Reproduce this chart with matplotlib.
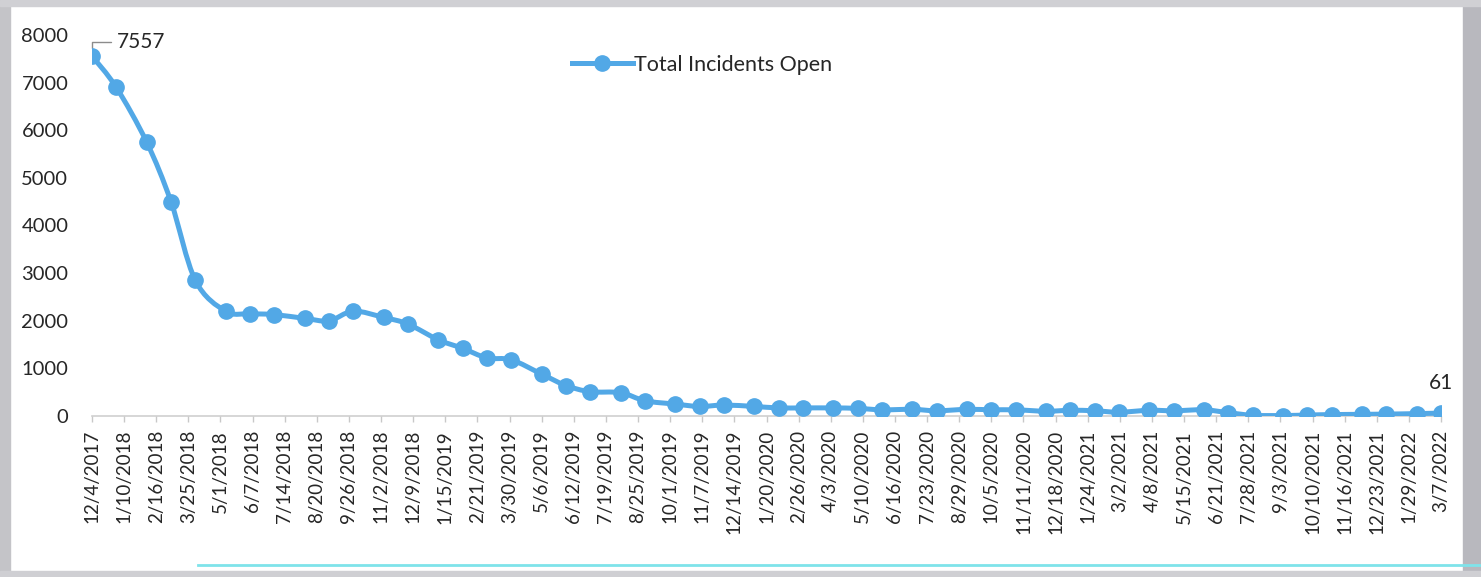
import matplotlib
matplotlib.use("Agg")
import matplotlib.pyplot as plt
import matplotlib.dates as mdates
from matplotlib.path import Path
from matplotlib.patches import PathPatch, Rectangle
from matplotlib.lines import Line2D
import numpy as np
import pandas as pd

plt.rcParams['font.family'] = ['Lato', 'DejaVu Sans']

# ---- data ----
dates = [
    "2017-12-04",
    "2018-01-01", "2018-02-05", "2018-03-05", "2018-04-02", "2018-05-07", "2018-06-04",
    "2018-07-02", "2018-08-06", "2018-09-03", "2018-10-01", "2018-11-05", "2018-12-03",
    "2019-01-07", "2019-02-04", "2019-03-04", "2019-04-01", "2019-05-06", "2019-06-03",
    "2019-07-01", "2019-08-05", "2019-09-02", "2019-10-07", "2019-11-04", "2019-12-02",
    "2020-01-06", "2020-02-03", "2020-03-02", "2020-04-06", "2020-05-04", "2020-06-01",
    "2020-07-06", "2020-08-03", "2020-09-07", "2020-10-05", "2020-11-02", "2020-12-07",
    "2021-01-04", "2021-02-01", "2021-03-01", "2021-04-05", "2021-05-03", "2021-06-07",
    "2021-07-05", "2021-08-02", "2021-09-06", "2021-10-04", "2021-11-01", "2021-12-06",
    "2022-01-03", "2022-02-07", "2022-03-07",
]
total_open = [
    7557,
    6900, 5750, 4500, 2850, 2200, 2150,
    2130, 2050, 2000, 2200, 2070, 1930,
    1600, 1420, 1220, 1180, 880, 640,
    510, 490, 320, 250, 200, 230,
    200, 170, 170, 170, 160, 130,
    140, 110, 140, 130, 130, 100,
    120, 110, 80, 120, 110, 130,
    70, 15, 10, 20, 30, 35,
    40, 50, 61,
]
tick_labels = [
    "12/4/2017", "1/10/2018", "2/16/2018", "3/25/2018", "5/1/2018", "6/7/2018",
    "7/14/2018", "8/20/2018", "9/26/2018", "11/2/2018", "12/9/2018", "1/15/2019",
    "2/21/2019", "3/30/2019", "5/6/2019", "6/12/2019", "7/19/2019", "8/25/2019",
    "10/1/2019", "11/7/2019", "12/14/2019", "1/20/2020", "2/26/2020", "4/3/2020",
    "5/10/2020", "6/16/2020", "7/23/2020", "8/29/2020", "10/5/2020", "11/11/2020",
    "12/18/2020", "1/24/2021", "3/2/2021", "4/8/2021", "5/15/2021", "6/21/2021",
    "7/28/2021", "9/3/2021", "10/10/2021", "11/16/2021", "12/23/2021", "1/29/2022",
    "3/7/2022",
]
series_name = "Total Incidents Open"
y_ticks = [0, 1000, 2000, 3000, 4000, 5000, 6000, 7000, 8000]

# ---- styling ----
LINE = '#52a8e6'
TXT = '#262626'
W, H = 1481, 577

fig = plt.figure(figsize=(W / 100, H / 100), dpi=100)
fig.patch.set_facecolor('white')
ax = fig.add_axes([92 / W, 1 - 416 / H, (1441 - 92) / W, (416 - 35) / H])
ax.set_facecolor('none')

x = mdates.date2num(pd.to_datetime(dates))
y = np.asarray(total_open, dtype=float)

# smoothed line (Catmull-Rom -> cubic Bezier, like Excel's smoothed line)
verts = [(x[0], y[0])]
codes = [Path.MOVETO]
n = len(x)
for i in range(n - 1):
    p0 = np.array([x[max(i - 1, 0)], y[max(i - 1, 0)]])
    p1 = np.array([x[i], y[i]])
    p2 = np.array([x[i + 1], y[i + 1]])
    p3 = np.array([x[min(i + 2, n - 1)], y[min(i + 2, n - 1)]])
    c1 = p1 + (p2 - p0) / 6.0
    c2 = p2 - (p3 - p1) / 6.0
    verts += [tuple(c1), tuple(c2), tuple(p2)]
    codes += [Path.CURVE4] * 3
ax.add_patch(PathPatch(Path(verts, codes), facecolor='none', edgecolor=LINE,
                       lw=3.6, capstyle='round', joinstyle='round', zorder=3))
ax.plot(x, y, linestyle='none', marker='o', ms=11, color=LINE,
        markeredgecolor=LINE, zorder=4)

ax.set_xlim(x[0], x[-1])
ax.set_ylim(0, 8000)

tick_pos = mdates.date2num(pd.to_datetime(tick_labels, format="%m/%d/%Y"))
ax.set_xticks(tick_pos)
ax.set_xticklabels(tick_labels, rotation=90, fontsize=13.5, color=TXT)
ax.set_yticks(y_ticks)
ax.set_yticklabels([str(v) for v in y_ticks], fontsize=14.5, color=TXT)

for s in ['top', 'right', 'left']:
    ax.spines[s].set_visible(False)
ax.spines['bottom'].set_color('#d0d0d0')
ax.spines['bottom'].set_linewidth(1.2)
ax.spines['bottom'].set_zorder(1)
ax.tick_params(axis='x', length=4, width=1, color='#c8c8c8', pad=6, direction='out')
ax.tick_params(axis='y', length=0, pad=17)

# data labels
ax.annotate(str(total_open[0]), xy=(x[0], y[0]), xytext=(18, 10),
            textcoords='offset points', fontsize=15, color=TXT,
            va='center', ha='left',
            arrowprops=dict(arrowstyle='-', color='#8c8c8c', lw=1,
                            connectionstyle='angle,angleA=0,angleB=90,rad=0',
                            shrinkA=2, shrinkB=6))
ax.annotate(str(total_open[-1]), xy=(x[-1], y[-1]), xytext=(0, 22),
            textcoords='offset points', fontsize=15, color=TXT,
            va='center', ha='center')

# legend
handle = Line2D([], [], color=LINE, lw=3.6, marker='o', ms=11)
leg = ax.legend([handle], [series_name], loc='center',
                bbox_to_anchor=((702 - 92) / (1441 - 92), 1 - (65 - 35) / (416 - 35)),
                frameon=False, fontsize=15.5, handlelength=2.8,
                handletextpad=0.05, labelcolor=TXT)

# scan edges
fig.patches.append(Rectangle((0, 0), 10 / W, 1, transform=fig.transFigure,
                             color='#c4c4c8', zorder=0))
fig.patches.append(Rectangle((1463 / W, 0), 18 / W, 1, transform=fig.transFigure,
                             color='#b8b8be', zorder=0))
fig.patches.append(Rectangle((0, 1 - 6 / H), 1, 6 / H, transform=fig.transFigure,
                             color='#d0d0d4', zorder=0))
fig.patches.append(Rectangle((0, 0), 1, 6 / H, transform=fig.transFigure,
                             color='#cfcfd3', zorder=0))
fig.lines.append(Line2D([198 / W, 1], [1 - 565 / H, 1 - 565 / H],
                        transform=fig.transFigure, color='#7fe3ea', lw=2))

fig.savefig('out.png', dpi=100)
